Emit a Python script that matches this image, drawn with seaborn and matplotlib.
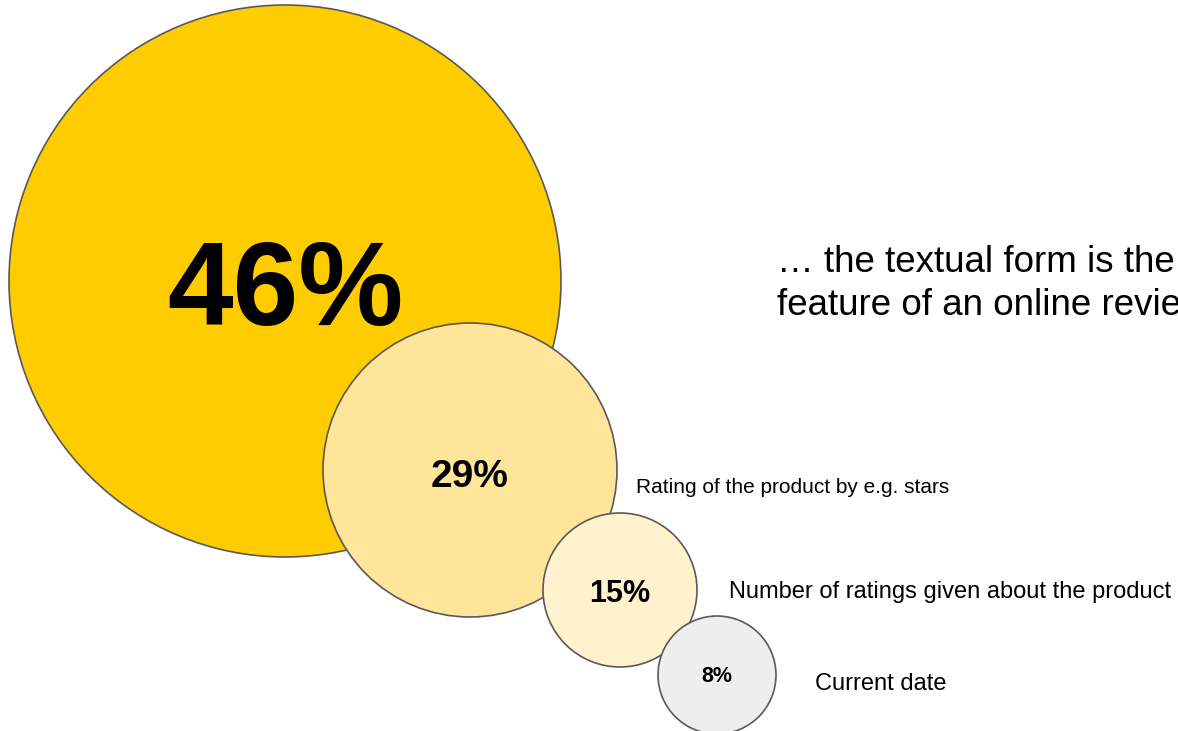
import matplotlib
matplotlib.use("Agg")
import matplotlib.pyplot as plt
import seaborn as sns
import pandas as pd

# data
pct_values = [46, 29, 15, 8]
pct_labels = ["46%", "29%", "15%", "8%"]
descriptions = ["", "Rating of the product by e.g. stars",
                "Number of ratings given about the product", "Current date"]
headline = ["\u2026 the textual form is the", "feature of an online revie"]

# layout (pixel coordinates of the 1178x731 canvas)
W, H = 1178, 731
DPI = 100
centers_x = [285, 470, 620, 717]
centers_y = [281, 470, 590, 675]
radii = [276, 147, 77, 59]
fill_colors = ["#FFCC00", "#FFE599", "#FFF2CC", "#EEEEEE"]
label_sizes = [85, 28, 22, 15.5]
label_baselines = [325, 487, 602, 682]
desc_x = [None, 636, 729, 815]
desc_baselines = [None, 493, 598, 690]
desc_sizes = [None, 15, 17, 17]

sns.set_theme(style="white")
plt.rcParams["font.family"] = ["Liberation Sans", "DejaVu Sans"]

fig = plt.figure(figsize=(W / DPI, H / DPI), dpi=DPI)
ax = fig.add_axes([0, 0, 1, 1])

df = pd.DataFrame({"x": centers_x, "y": centers_y, "label": pct_labels})
# marker area in points^2 from the pixel radius
sizes = {lab: (2 * r * 72 / DPI) ** 2 for lab, r in zip(pct_labels, radii)}
sns.scatterplot(data=df, x="x", y="y", hue="label", size="label",
                palette=dict(zip(pct_labels, fill_colors)), sizes=sizes,
                edgecolor="#595959", linewidth=1.2, alpha=1,
                legend=False, ax=ax)

for i, lab in enumerate(pct_labels):
    ax.text(centers_x[i], label_baselines[i], lab, ha="center", va="baseline",
            fontsize=label_sizes[i], fontweight="bold", color="black")
    if descriptions[i]:
        ax.text(desc_x[i], desc_baselines[i], descriptions[i], ha="left",
                va="baseline", fontsize=desc_sizes[i], color="black")

for j, line in enumerate(headline):
    ax.text(777, 272 + j * 43, line, ha="left", va="baseline",
            fontsize=26.5, color="black")

ax.set_xlim(0, W)
ax.set_ylim(H, 0)
ax.axis("off")

fig.savefig("out.png", dpi=DPI, facecolor="white")
